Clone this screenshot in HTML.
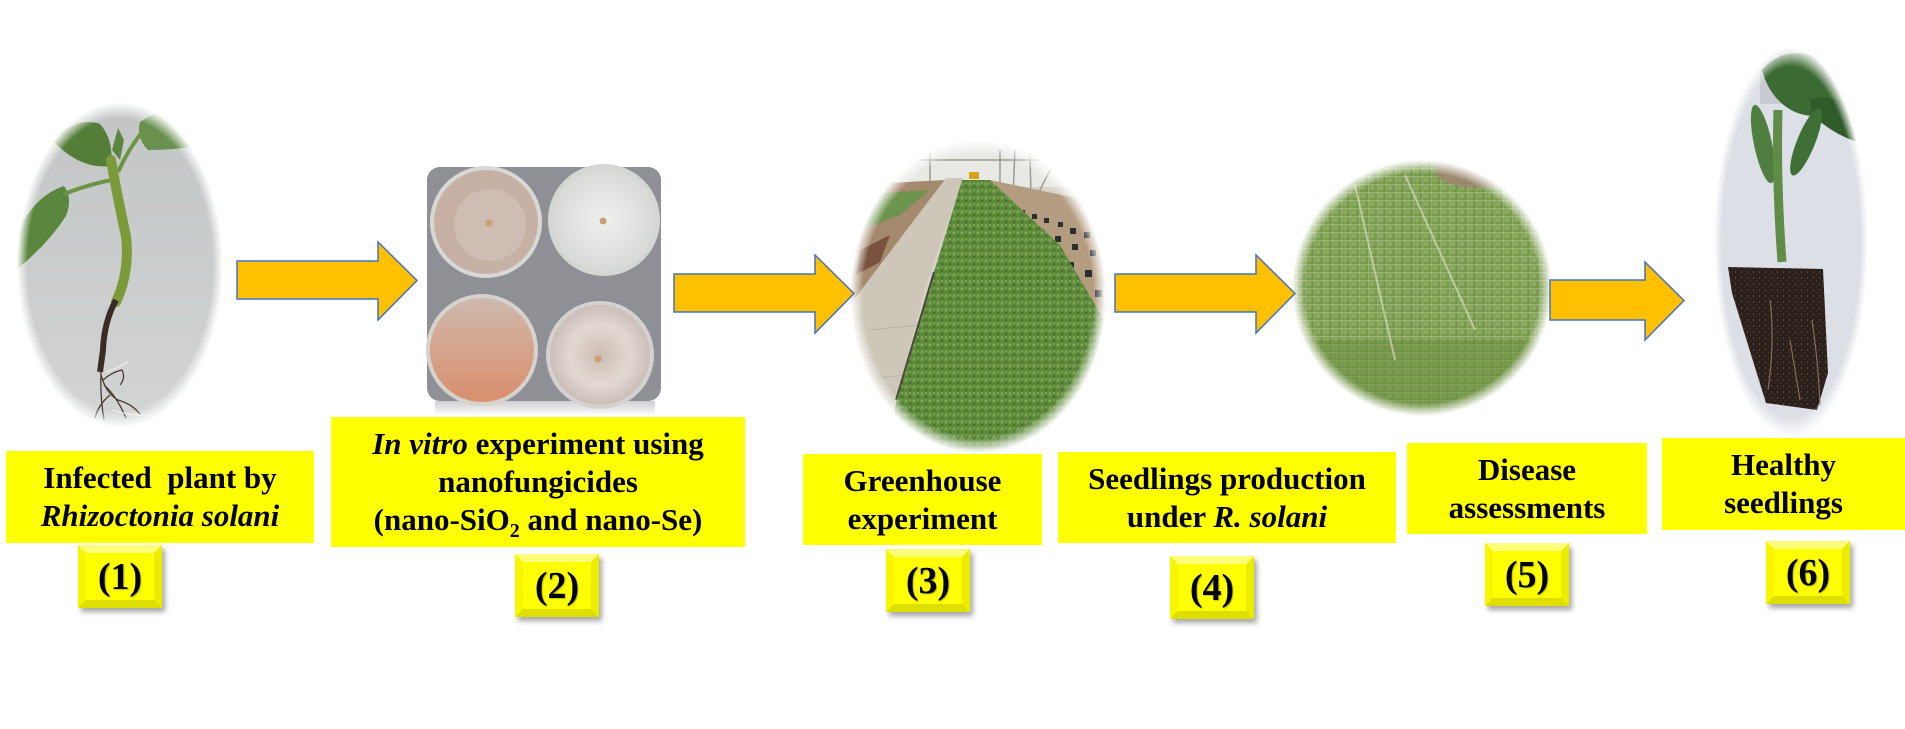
<!DOCTYPE html>
<html>
<head>
<meta charset="utf-8">
<style>
  html,body{margin:0;padding:0;background:#fff;}
  #wrap{position:relative;width:1905px;height:729px;overflow:hidden;background:#fff;
    font-family:"Liberation Serif","Times New Roman",serif;}
  svg{position:absolute;left:0;top:0;}
  .lab{position:absolute;background:#ffff00;display:flex;flex-direction:column;
    justify-content:center;align-items:center;text-align:center;font-weight:bold;
    font-size:31px;line-height:38px;color:#000;white-space:nowrap;}
  .lab i{font-style:italic;}
  .lab sub{font-size:20px;line-height:0;vertical-align:-7px;}
  .num{position:absolute;box-sizing:border-box;width:84px;height:63px;
    background:#ffff00;border-style:solid;border-width:8px;
    border-color:#ffff7a #ecec00 #dede00 #f6f600;
    box-shadow:3px 4px 5px rgba(0,0,0,0.35);
    display:flex;justify-content:center;align-items:center;
    font-weight:bold;font-size:38px;line-height:40px;color:#000;
    text-shadow:1px 1px 1px rgba(0,0,0,0.25);}
</style>
</head>
<body>
<div id="wrap">
<svg width="1905" height="729" viewBox="0 0 1905 729" xmlns="http://www.w3.org/2000/svg">
  <defs>
    <radialGradient id="fade">
      <stop offset="0" stop-color="#fff"/>
      <stop offset="0.9" stop-color="#fff"/>
      <stop offset="1" stop-color="#000"/>
    </radialGradient>
    <mask id="m1" maskUnits="userSpaceOnUse" x="0" y="0" width="1905" height="729">
      <ellipse cx="120" cy="265" rx="103" ry="163" fill="url(#fade)"/>
    </mask>
    <mask id="m3" maskUnits="userSpaceOnUse" x="0" y="0" width="1905" height="729">
      <ellipse cx="978" cy="296" rx="128" ry="157" fill="url(#fade)"/>
    </mask>
    <mask id="m5" maskUnits="userSpaceOnUse" x="0" y="0" width="1905" height="729">
      <ellipse cx="1422" cy="288" rx="130" ry="128" fill="url(#fade)"/>
    </mask>
    <mask id="m6" maskUnits="userSpaceOnUse" x="0" y="0" width="1905" height="729">
      <ellipse cx="1791" cy="242" rx="77" ry="195" fill="url(#fade)"/>
    </mask>
    <linearGradient id="plantbg" x1="0" y1="0" x2="0" y2="1">
      <stop offset="0" stop-color="#c2c5c5"/>
      <stop offset="1" stop-color="#d3d5d5"/>
    </linearGradient>
    <pattern id="grass" width="8" height="7" patternUnits="userSpaceOnUse">
      <rect width="8" height="7" fill="#5d8a3a"/>
      <circle cx="2" cy="2" r="1.6" fill="#7ea553"/>
      <circle cx="6" cy="5" r="1.5" fill="#4a7530"/>
      <circle cx="6" cy="1" r="0.9" fill="#8fb463"/>
    </pattern>
    <pattern id="tray" width="9" height="8" patternUnits="userSpaceOnUse">
      <rect width="9" height="8" fill="#76984a"/>
      <circle cx="4" cy="4" r="2.6" fill="#8aab5a"/>
      <rect x="0" y="0" width="9" height="1.2" fill="#b7c49a" opacity="0.6"/>
      <rect x="0" y="0" width="1.2" height="8" fill="#b7c49a" opacity="0.5"/>
    </pattern>
    <pattern id="soil" width="6" height="6" patternUnits="userSpaceOnUse">
      <rect width="6" height="6" fill="#2a1f1b"/>
      <circle cx="1.5" cy="2" r="0.8" fill="#6b5646"/>
      <circle cx="4.5" cy="4.5" r="0.7" fill="#4a3a30"/>
    </pattern>
    <linearGradient id="plate3" x1="0" y1="0" x2="0" y2="1">
      <stop offset="0" stop-color="#cdb9ae"/>
      <stop offset="0.45" stop-color="#d4a58e"/>
      <stop offset="1" stop-color="#d98f6c"/>
    </linearGradient>
    <radialGradient id="plate2" cx="0.5" cy="0.5" r="0.5">
      <stop offset="0" stop-color="#f0f0ee"/>
      <stop offset="1" stop-color="#d8d8d6"/>
    </radialGradient>
    <radialGradient id="plate4" cx="0.5" cy="0.5" r="0.5">
      <stop offset="0" stop-color="#cdbdb4"/>
      <stop offset="0.6" stop-color="#e2d8d2"/>
      <stop offset="1" stop-color="#cbbfb8"/>
    </radialGradient>
    <linearGradient id="refl" x1="0" y1="0" x2="0" y2="1">
      <stop offset="0" stop-color="#cfcfd2"/>
      <stop offset="1" stop-color="#ffffff"/>
    </linearGradient>
  </defs>

  <!-- Image 1: infected plant -->
  <g mask="url(#m1)">
    <rect x="10" y="95" width="225" height="340" fill="url(#plantbg)"/>
    <path d="M140 122 Q165 104 200 112 L205 145 Q175 150 148 150 Q136 138 140 122 Z" fill="#6a9050"/>
    <path d="M52 140 Q78 116 100 124 Q114 140 111 166 Q80 170 52 140 Z" fill="#547d38"/>
    <path d="M112 150 L118 128 L124 140 L120 160 Z" fill="#5c8540"/>
    <path d="M64 186 Q34 196 18 232 L16 270 Q48 244 66 216 Q73 198 64 186 Z" fill="#5a873d"/>
    <path d="M64 194 Q90 184 112 180" stroke="#6d9445" stroke-width="4" fill="none"/>
    <path d="M142 132 Q128 150 118 172" stroke="#6d9445" stroke-width="4" fill="none"/>
    <path d="M111 160 Q118 200 126 236 Q130 272 116 302" stroke="#7b9b3b" stroke-width="10" fill="none" stroke-linecap="round"/>
    <path d="M116 300 Q104 322 103 350 L100 372" stroke="#3b2b24" stroke-width="6" fill="none"/>
    <g stroke="#4a3a32" stroke-width="1.3" fill="none">
      <path d="M100 370 Q104 392 118 400 Q132 404 140 414"/>
      <path d="M101 375 Q100 395 104 420"/>
      <path d="M104 385 Q116 395 126 418"/>
      <path d="M103 380 Q112 372 122 370 Q126 378 120 385"/>
      <path d="M110 395 Q98 405 95 418"/>
    </g>
    <g stroke="#f2f2f2" stroke-width="1" fill="none">
      <path d="M106 372 Q118 368 128 362"/>
      <path d="M112 410 Q130 416 150 415"/>
    </g>
  </g>

  <!-- Arrow 1 -->
  <polygon points="237,261 378,261 378,242 417,280.5 378,320 378,299 237,299" fill="#ffc000" stroke="#4472c4" stroke-width="1.5"/>

  <!-- Image 2: petri dishes -->
  <rect x="435" y="401" width="220" height="15" fill="url(#refl)"/>
  <rect x="427" y="167" width="234" height="234" rx="13" fill="#8e9096"/>
  <circle cx="486" cy="222" r="56" fill="#d8d8d6"/>
  <circle cx="486" cy="222" r="52" fill="#c7b1a5"/>
  <circle cx="490" cy="225" r="36" fill="#d3c3ba" opacity="0.6"/>
  <circle cx="489" cy="223" r="3.5" fill="#c9a070"/>
  <circle cx="604" cy="220" r="56" fill="#d4d8d4"/>
  <circle cx="604" cy="220" r="52" fill="url(#plate2)"/>
  <circle cx="603" cy="221" r="3.5" fill="#c9a070"/>
  <circle cx="482" cy="350" r="56" fill="#d6d2cc"/>
  <circle cx="482" cy="350" r="52" fill="url(#plate3)"/>
  <circle cx="600" cy="355" r="54" fill="#d4d2d0"/>
  <circle cx="600" cy="355" r="50" fill="url(#plate4)"/>
  <circle cx="598" cy="359" r="3.5" fill="#c9a070"/>

  <!-- Arrow 2 -->
  <polygon points="674,274 815,274 815,255 854,293.5 815,333 815,312 674,312" fill="#ffc000" stroke="#4472c4" stroke-width="1.5"/>

  <!-- Image 3: greenhouse -->
  <g mask="url(#m3)">
    <rect x="846" y="135" width="264" height="322" fill="#d9d4ca"/>
    <rect x="846" y="135" width="264" height="52" fill="#e8e9e5"/>
    <g stroke="#9a9a92" stroke-width="1.5">
      <line x1="930" y1="150" x2="930" y2="185"/>
      <line x1="1000" y1="150" x2="1000" y2="200"/>
      <line x1="1015" y1="150" x2="1012" y2="220"/>
      <line x1="1030" y1="155" x2="1032" y2="240"/>
      <line x1="1055" y1="160" x2="1030" y2="210"/>
      <line x1="880" y1="160" x2="1080" y2="160"/>
    </g>
    <polygon points="846,185 946,180 890,260 846,310" fill="#a38a6c"/>
    <polygon points="855,195 930,190 900,215 860,230" fill="#6f9450"/>
    <polygon points="860,250 890,235 880,262 856,275" fill="#7a5340"/>
    <polygon points="946,178 963,178 928,280 893,410 882,457 846,457 846,310" fill="#cec7b9"/>
    <line x1="870" y1="330" x2="920" y2="325" stroke="#b9b2a4" stroke-width="1"/>
    <line x1="860" y1="380" x2="905" y2="375" stroke="#b9b2a4" stroke-width="1"/>
    <polygon points="990,180 1110,205 1110,330 1060,245" fill="#b39c80"/>
    <g fill="#2a2e30">
      <rect x="1020" y="210" width="5" height="5"/><rect x="1032" y="214" width="5" height="5"/>
      <rect x="1044" y="218" width="5" height="5"/><rect x="1058" y="222" width="5" height="5"/>
      <rect x="1070" y="228" width="6" height="6"/><rect x="1084" y="232" width="6" height="6"/>
      <rect x="1040" y="230" width="5" height="5"/><rect x="1055" y="236" width="6" height="6"/>
      <rect x="1072" y="244" width="6" height="6"/><rect x="1090" y="250" width="6" height="6"/>
      <rect x="1068" y="262" width="6" height="6"/><rect x="1085" y="270" width="7" height="7"/>
      <rect x="1095" y="290" width="7" height="7"/>
    </g>
    <polygon points="962,180 990,180 1060,245 1110,330 1110,457 886,457 898,392 934,272" fill="url(#grass)"/>
    <line x1="934" y1="272" x2="896" y2="400" stroke="#4a4a3a" stroke-width="2"/>
    <rect x="969" y="172" width="10" height="7" fill="#d9a21a"/>
  </g>

  <!-- Arrow 3 -->
  <polygon points="1115,274 1256,274 1256,255 1295,293.5 1256,333 1256,312 1115,312" fill="#ffc000" stroke="#4472c4" stroke-width="1.5"/>

  <!-- Image 4: seedling trays field -->
  <g mask="url(#m5)">
    <rect x="1288" y="155" width="270" height="265" fill="url(#tray)"/>
    <rect x="1288" y="340" width="270" height="80" fill="#6a8c3e" opacity="0.5"/>
    <ellipse cx="1480" cy="170" rx="45" ry="18" fill="#a08574" opacity="0.8"/>
    <g stroke="#d6dcc2" stroke-width="2" opacity="0.7">
      <line x1="1355" y1="185" x2="1395" y2="360"/>
      <line x1="1405" y1="175" x2="1475" y2="330"/>
    </g>
  </g>

  <!-- Arrow 4 -->
  <polygon points="1550,280 1645,280 1645,262 1684,300.5 1645,340 1645,320 1550,320" fill="#ffc000" stroke="#4472c4" stroke-width="1.5"/>

  <!-- Image 5: healthy seedling -->
  <g mask="url(#m6)">
    <rect x="1710" y="44" width="165" height="396" fill="#dcdfe5"/>
    <rect x="1760" y="44" width="115" height="60" fill="#c8ccd2"/>
    <path d="M1762 70 Q1780 48 1810 55 Q1830 60 1845 52 Q1870 60 1875 100 L1875 130 Q1850 128 1830 112 Q1815 120 1795 112 Q1770 100 1762 70 Z" fill="#3c6a33"/>
    <path d="M1810 100 Q1840 90 1870 120 L1870 145 Q1840 140 1812 115 Z" fill="#2f5a2a"/>
    <ellipse cx="1763" cy="144" rx="9" ry="40" transform="rotate(-12 1763 144)" fill="#4f7e40"/>
    <ellipse cx="1806" cy="142" rx="9" ry="36" transform="rotate(22 1806 142)" fill="#3f6f35"/>
    <path d="M1778 110 Q1776 180 1782 262" stroke="#5f8c47" stroke-width="9" fill="none"/>
    <polygon points="1728,267 1823,269 1828,373 1817,410 1766,403 1732,293" fill="url(#soil)"/>
    <g stroke="#8a735a" stroke-width="1.1" fill="none">
      <path d="M1770 300 Q1775 340 1768 390"/>
      <path d="M1812 320 Q1818 360 1820 405"/>
      <path d="M1790 340 Q1795 370 1800 400"/>
    </g>
  </g>
</svg>

<!-- Labels -->
<div class="lab" style="left:6px;top:451px;width:308px;height:92px;">
  <div>Infected&nbsp; plant by</div>
  <div><i>Rhizoctonia solani</i></div>
</div>
<div class="lab" style="left:331px;top:417px;width:414px;height:130px;">
  <div><i>In vitro</i> experiment using</div>
  <div>nanofungicides</div>
  <div>(nano-SiO<sub>2</sub> and nano-Se)</div>
</div>
<div class="lab" style="left:803px;top:454px;width:239px;height:91px;">
  <div>Greenhouse</div>
  <div>experiment</div>
</div>
<div class="lab" style="left:1058px;top:452px;width:338px;height:91px;">
  <div>Seedlings production</div>
  <div>under <i>R. solani</i></div>
</div>
<div class="lab" style="left:1407px;top:443px;width:240px;height:91px;">
  <div>Disease</div>
  <div>assessments</div>
</div>
<div class="lab" style="left:1662px;top:438px;width:243px;height:92px;">
  <div>Healthy</div>
  <div>seedlings</div>
</div>

<!-- Number boxes -->
<div class="num" style="left:78px;top:545px;">(1)</div>
<div class="num" style="left:515px;top:554px;">(2)</div>
<div class="num" style="left:886px;top:549px;">(3)</div>
<div class="num" style="left:1170px;top:556px;">(4)</div>
<div class="num" style="left:1485px;top:543px;">(5)</div>
<div class="num" style="left:1766px;top:541px;">(6)</div>
</div>
</body>
</html>
